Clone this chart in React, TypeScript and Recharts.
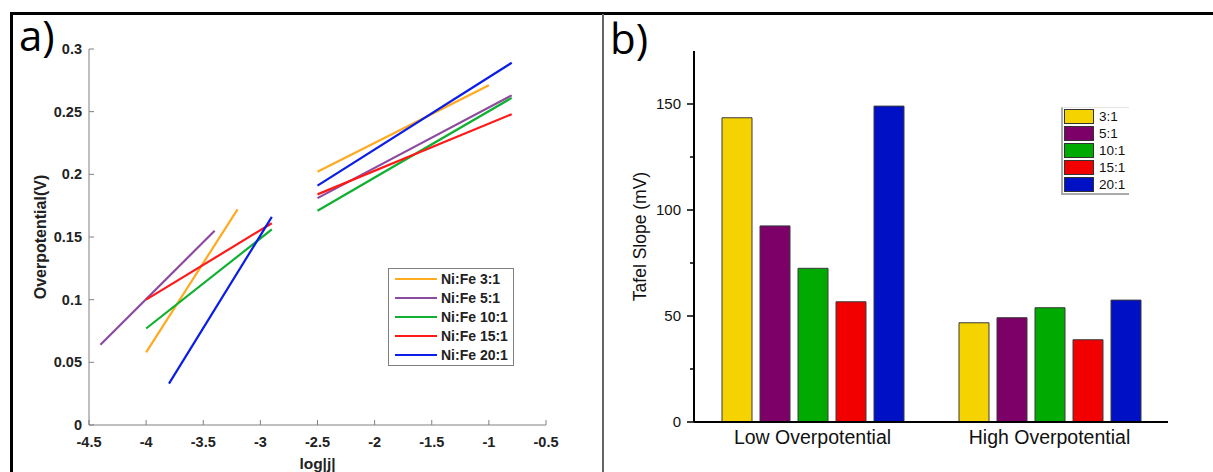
import React from "react";
import {
  LineChart, Line, BarChart, Bar, XAxis, YAxis, Legend,
} from "recharts";

// ---- panel a: Tafel fits, two linear segments per ratio ----
const ratioNames = ["Ni:Fe 3:1", "Ni:Fe 5:1", "Ni:Fe 10:1", "Ni:Fe 15:1", "Ni:Fe 20:1"];
const lineColors = ["#FFAA1F", "#8C4B9E", "#10B032", "#FF1A1A", "#0A1EE8"];

const lowX0 = [-4.0, -4.4, -4.0, -4.0, -3.8];
const lowY0 = [0.058, 0.064, 0.077, 0.100, 0.033];
const lowX1 = [-3.2, -3.4, -2.9, -2.9, -2.9];
const lowY1 = [0.172, 0.155, 0.156, 0.161, 0.166];
const highX0 = [-2.5, -2.5, -2.5, -2.5, -2.5];
const highY0 = [0.202, 0.181, 0.171, 0.184, 0.191];
const highX1 = [-1.0, -0.8, -0.8, -0.8, -0.8];
const highY1 = [0.271, 0.263, 0.261, 0.248, 0.289];

const xTicksA = [-4.5, -4, -3.5, -3, -2.5, -2, -1.5, -1, -0.5];
const yTicksA = [0, 0.05, 0.1, 0.15, 0.2, 0.25, 0.3];

// ---- panel b: Tafel slopes ----
const groups = ["Low Overpotential", "High Overpotential"];
const barNames = ["3:1", "5:1", "10:1", "15:1", "20:1"];
const barKeys = ["r3", "r5", "r10", "r15", "r20"];
const barColors = ["#F5D300", "#7C0068", "#00AA00", "#F20000", "#0010C4"];
const slope3 = [143.5, 46.8];
const slope5 = [92.5, 49.2];
const slope10 = [72.5, 53.9];
const slope15 = [56.7, 38.8];
const slope20 = [149, 57.5];
const yTicksB = [0, 25, 50, 75, 100, 125, 150, 175];

const AX = "#808080";
const boldFont = { fontFamily: "'Liberation Sans', Arial, sans-serif", fontWeight: 700 };
const plainFont = { fontFamily: "'Liberation Sans', Arial, sans-serif" };

const segData = (i: number) => [
  { x: lowX0[i], y: lowY0[i] },
  { x: lowX1[i], y: lowY1[i] },
  { x: (lowX1[i] + highX0[i]) / 2, y: null },
  { x: highX0[i], y: highY0[i] },
  { x: highX1[i], y: highY1[i] },
];

const barData = groups.map((g, i) => ({
  cat: g, r3: slope3[i], r5: slope5[i], r10: slope10[i], r15: slope15[i], r20: slope20[i],
}));

// MATLAB-style inward ticks
const BottomTickA = ({ x, y, payload }: any) => (
  <g>
    <line x1={x} x2={x} y1={y} y2={y - 5} stroke={AX} />
    <text x={x} y={y + 22} textAnchor="middle" fontSize={14.5} fill="#222" style={boldFont}>{payload.value}</text>
  </g>
);
const LeftTickA = ({ x, y, payload }: any) => (
  <g>
    <line x1={x} x2={x + 5} y1={y} y2={y} stroke={AX} />
    <text x={x - 7} y={y + 5} textAnchor="end" fontSize={14.5} fill="#222" style={boldFont}>{payload.value}</text>
  </g>
);
const TopTickA = ({ x, y }: any) => <line x1={x} x2={x} y1={y} y2={y + 5} stroke={AX} />;
const RightTickA = ({ x, y }: any) => <line x1={x} x2={x - 5} y1={y} y2={y} stroke={AX} />;

const LeftTickB = ({ x, y, payload }: any) => {
  const major = payload.value % 50 === 0;
  if (payload.value === 175) return <g />;
  return (
    <g>
      <line x1={x - (major ? 7 : 4)} x2={x} y1={y} y2={y} stroke="#000" strokeWidth={1.5} />
      {major && (
        <text x={x - 13} y={y + 5} textAnchor="end" fontSize={15} fill="#111" style={plainFont}>{payload.value}</text>
      )}
    </g>
  );
};
const BottomTickB = ({ x, y, payload }: any) => (
  <text x={x} y={y + 22} textAnchor="middle" fontSize={19.5} fill="#111" style={plainFont}>{payload.value}</text>
);

const LineLegend = () => (
  <div style={{ width: 126, height: 98, border: "1px solid #7f7f7f", background: "#fff", boxSizing: "border-box" }}>
    {ratioNames.map((n, i) => (
      <div key={n} style={{ display: "flex", alignItems: "center", height: 19.2, paddingLeft: 6 }}>
        <div style={{ width: 42, height: 2, background: lineColors[i], marginRight: 4 }} />
        <span style={{ ...boldFont, fontSize: 14, color: "#222" }}>{n}</span>
      </div>
    ))}
  </div>
);

const BarLegend = () => (
  <div style={{
    width: 68, height: 88, background: "#fff", boxSizing: "border-box",
    borderLeft: "2px solid #aaa", borderBottom: "2px solid #aaa", borderTop: "1px solid #e4e4e4",
  }}>
    {barNames.map((n, i) => (
      <div key={n} style={{ display: "flex", alignItems: "center", height: 17 }}>
        <div style={{ width: 30, height: 15, background: barColors[i], border: "1px solid #333", boxSizing: "border-box", marginLeft: 1, marginRight: 5 }} />
        <span style={{ ...plainFont, fontSize: 13.5, color: "#111" }}>{n}</span>
      </div>
    ))}
  </div>
);

export default function App() {
  return (
    <div style={{ position: "absolute", left: 0, top: 0, width: 1213, height: 472, background: "#fff", overflow: "hidden" }}>
      {/* outer frame + divider */}
      <div style={{ position: "absolute", left: 10, top: 12, width: 1220, height: 480, borderTop: "3px solid #000", borderLeft: "3px solid #000" }} />
      <div style={{ position: "absolute", left: 602, top: 14, width: 2, height: 460, background: "#666" }} />

      <div style={{ position: "absolute", left: 0, top: 0, width: 603, height: 472 }}>
        <LineChart width={603} height={472} margin={{ top: 49, right: 57, bottom: 7, left: 39 }}>
          <XAxis dataKey="x" type="number" domain={[-4.5, -0.5]} ticks={xTicksA} allowDataOverflow
            height={40} tickSize={0} tickMargin={0} tick={<BottomTickA />} tickLine={false}
            axisLine={{ stroke: AX }}
            label={{ value: "log|j|", position: "insideBottom", offset: -4, fontSize: 15.5, fill: "#222", style: boldFont }} />
          <XAxis xAxisId="top" orientation="top" dataKey="x" type="number" domain={[-4.5, -0.5]} ticks={xTicksA}
            allowDataOverflow height={0} tickSize={0} tickMargin={0} tick={<TopTickA />} tickLine={false} axisLine={{ stroke: AX }} />
          <YAxis type="number" domain={[0, 0.3]} ticks={yTicksA} allowDataOverflow width={50}
            tickSize={0} tickMargin={0} tick={<LeftTickA />} tickLine={false} axisLine={{ stroke: AX }}
            label={{ value: "Overpotential(V)", angle: -90, position: "insideLeft", offset: 1, fontSize: 16, fill: "#222", style: { ...boldFont, textAnchor: "middle" } }} />
          <YAxis yAxisId="right" orientation="right" type="number" domain={[0, 0.3]} ticks={yTicksA} allowDataOverflow
            width={0} tickSize={0} tickMargin={0} tick={<RightTickA />} tickLine={false} axisLine={{ stroke: AX }} />
          {ratioNames.map((n, i) => (
            <Line key={n} name={n} data={segData(i)} dataKey="y" type="linear" stroke={lineColors[i]}
              strokeWidth={2.2} dot={false} activeDot={false} connectNulls={false} isAnimationActive={false} />
          ))}
          <Legend layout="vertical" align="center" verticalAlign="middle" content={<LineLegend />}
            wrapperStyle={{ position: "absolute", left: 388, top: 268, width: 126, height: 98 }} />
        </LineChart>
      </div>

      <div style={{ position: "absolute", left: 603, top: 0, width: 610, height: 472 }}>
        <BarChart width={610} height={472} data={barData} margin={{ top: 51, right: 45, bottom: 10, left: 41 }}
          barSize={30} barGap={8}>
          <XAxis dataKey="cat" height={40} tickLine={false} tick={<BottomTickB />} tickSize={0} tickMargin={0}
            axisLine={{ stroke: "#000", strokeWidth: 2 }} />
          <XAxis xAxisId="top" orientation="top" dataKey="cat" height={0} tick={false} tickLine={false}
            axisLine={{ stroke: "#000", strokeWidth: 1 }} />
          <YAxis type="number" domain={[0, 175]} ticks={yTicksB} width={50} tickSize={0} tickMargin={0}
            tickLine={false} tick={<LeftTickB />} axisLine={{ stroke: "#000", strokeWidth: 2 }}
            label={{ value: "Tafel Slope (mV)", angle: -90, position: "insideLeft", offset: -4, fontSize: 17.5, fill: "#111", style: { ...plainFont, textAnchor: "middle" } }} />
          <YAxis yAxisId="right" orientation="right" type="number" domain={[0, 175]} width={0} tick={false}
            tickLine={false} axisLine={{ stroke: "#000", strokeWidth: 2 }} />
          {barKeys.map((k, i) => (
            <Bar key={k} dataKey={k} name={barNames[i]} fill={barColors[i]} stroke="#3a3a3a" strokeWidth={1}
              isAnimationActive={false} />
          ))}
          <Legend layout="vertical" align="center" verticalAlign="middle" content={<BarLegend />}
            wrapperStyle={{ position: "absolute", left: 458, top: 107, width: 68, height: 88 }} />
        </BarChart>
      </div>

      <div style={{ position: "absolute", left: 19, top: 14, fontFamily: "'Open Sans', sans-serif", fontSize: 42, lineHeight: 1 }}>a)</div>
      <div style={{ position: "absolute", left: 610, top: 17, fontFamily: "'Open Sans', sans-serif", fontSize: 42, lineHeight: 1 }}>b)</div>
    </div>
  );
}
